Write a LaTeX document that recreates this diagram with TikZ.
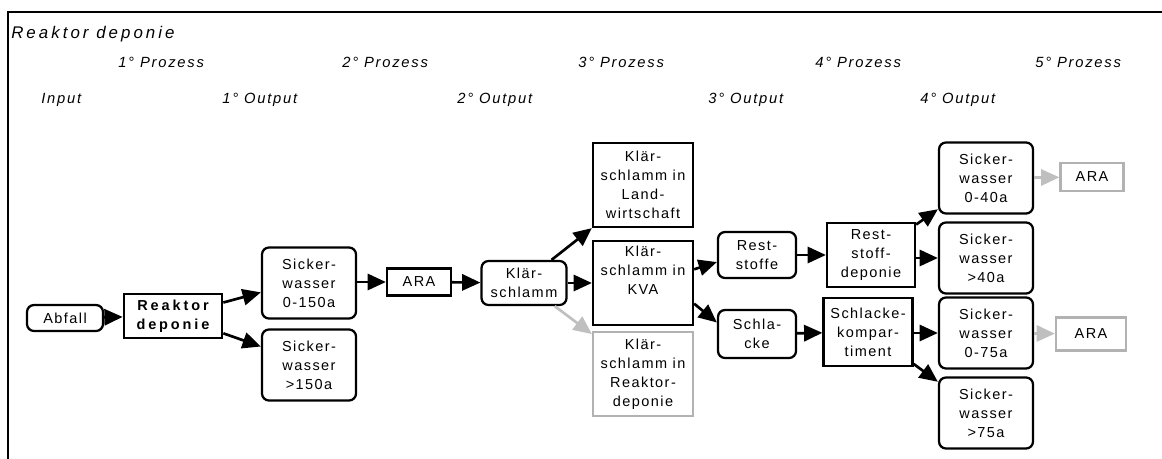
\documentclass[tikz,border=0pt]{standalone}
\usepackage{fontspec}
\usetikzlibrary{arrows.meta}
\setmainfont{Liberation Sans}
\newfontfamily\boxfont[LetterSpace=10]{Liberation Sans}
\newfontfamily\headfont[LetterSpace=12]{Liberation Sans}
\newcommand{\nodefont}{\boxfont\fontsize{10.3pt}{13.5pt}\selectfont}
\newcommand{\headsize}{\headfont\itshape\fontsize{10.5pt}{12pt}\selectfont}

\begin{document}
\begin{tikzpicture}[x=0.025cm, y=-0.025cm,
  rbox/.style={draw, rounded corners=5pt, line width=1.6pt, align=center, inner sep=0pt, font=\nodefont},
  sbox/.style={draw, line width=1.6pt, align=center, inner sep=0pt, font=\nodefont},
  gbox/.style={draw=black!30, line width=1.6pt, align=center, inner sep=0pt, font=\nodefont},
  flow/.style={-{Triangle[length=13pt, width=11.5pt]}, line width=1.9pt},
  gflow/.style={flow, draw=black!25},
  head/.style={anchor=west, inner sep=0pt, font=\headsize}]
  \useasboundingbox (0,0) rectangle (1162,459);

  % Frame
  \draw[line width=1.6pt] (1162,12) -- (8,12) -- (8,459);

  % Headings
  \node[head, font=\headfont\itshape\fontsize{12pt}{14pt}\selectfont\addfontfeatures{LetterSpace=18}] (title) at (11,34) {Reaktor deponie};
  \node[head] (p1) at (118,62) {1° Prozess};
  \node[head] (p2) at (342,62) {2° Prozess};
  \node[head] (p3) at (578,62) {3° Prozess};
  \node[head] (p4) at (815,62) {4° Prozess};
  \node[head] (p5) at (1035,62) {5° Prozess};
  \node[head] (in) at (41,100) {Input};
  \node[head] (o1) at (222,100) {1° Output};
  \node[head] (o2) at (457,100) {2° Output};
  \node[head] (o3) at (708,100) {3° Output};
  \node[head] (o4) at (920,100) {4° Output};

  % Boxes
  \node[rbox, minimum width=1.9cm, minimum height=0.65cm] (abfall) at (65,318) {Abfall};
  \node[sbox, line width=1.9pt, minimum width=2.45cm, minimum height=1.1cm,
        font=\nodefont\bfseries\addfontfeatures{LetterSpace=20}] (rd) at (173,316) {Reaktor\\deponie};
  \node[rbox, minimum width=2.35cm, minimum height=1.775cm] (sw1) at (309,283) {Sicker-\\wasser\\0-150a};
  \node[rbox, minimum width=2.35cm, minimum height=1.775cm] (sw2) at (309,365) {Sicker-\\wasser\\>150a};
  \node[sbox, minimum width=1.6cm, minimum height=0.675cm] (ara) at (419,282) {ARA};
  \node[rbox, minimum width=2.125cm, minimum height=1.1cm] (ks) at (524,283) {Klär-\\schlamm};
  \node[sbox, minimum width=2.5cm, minimum height=2.1cm] (ksl) at (643,185) {Klär-\\schlamm in\\Land-\\wirtschaft};
  \node[sbox, minimum width=2.5cm, minimum height=2.1cm] (ksk) at (643,283) {Klär-\\schlamm in\\KVA\\\strut};
  \node[gbox, minimum width=2.5cm, minimum height=2.1cm] (ksr) at (643,374) {Klär-\\schlamm in\\Reaktor-\\deponie};
  \node[rbox, minimum width=1.95cm, minimum height=1.15cm] (rs) at (757,255) {Rest-\\stoffe};
  \node[rbox, minimum width=1.95cm, minimum height=1.2cm] (sl) at (757,334) {Schla-\\cke};
  \node[sbox, minimum width=2.2cm, minimum height=1.6cm] (rsd) at (871,255) {Rest-\\stoff-\\deponie};
  \node[sbox, minimum width=2.225cm, minimum height=1.7cm] (skp) at (868,332) {Schlacke-\\kompar-\\timent};
  \node[rbox, minimum width=2.35cm, minimum height=1.775cm] (sw3) at (986,178) {Sicker-\\wasser\\0-40a};
  \node[rbox, minimum width=2.35cm, minimum height=1.775cm] (sw4) at (986,258) {Sicker-\\wasser\\>40a};
  \node[rbox, minimum width=2.35cm, minimum height=1.775cm] (sw5) at (986,333) {Sicker-\\wasser\\0-75a};
  \node[rbox, minimum width=2.35cm, minimum height=1.775cm] (sw6) at (986,413) {Sicker-\\wasser\\>75a};
  \node[gbox, minimum width=1.575cm, minimum height=0.7cm] (ara2) at (1092,177) {ARA};
  \node[gbox, minimum width=1.75cm, minimum height=0.825cm] (ara3) at (1091,334) {ARA};

  % Flows
  \draw[flow] (abfall) -- (rd);
  \draw[flow] (rd.15) -- (sw1.191);
  \draw[flow] (rd.-19) -- (sw2.159);
  \draw[flow] (sw1.east |- ara.west) -- (ara.west);
  \draw[flow] (ara) -- (ks);
  \draw[flow] (ks.40) -- (ksl.south west);
  \draw[flow] (ks) -- (ksk);
  \draw[gflow] (ks.-37) -- (ksr.142);
  \draw[flow] (ksk.15) -- (rs.190);
  \draw[flow] (ksk.-22) -- (sl.164);
  \draw[flow] (rs) -- (rsd);
  \draw[flow] (sl) -- (skp);
  \draw[flow] (rsd.34) -- (sw3.213);
  \draw[flow] (rsd.east |- sw4.west) -- (sw4.west);
  \draw[flow] (skp.east |- sw5.west) -- (sw5.west);
  \draw[flow] (skp.-35) -- (sw6.147);
  \draw[gflow] (sw3) -- (ara2);
  \draw[gflow] (sw5) -- (ara3);
\end{tikzpicture}
\end{document}
